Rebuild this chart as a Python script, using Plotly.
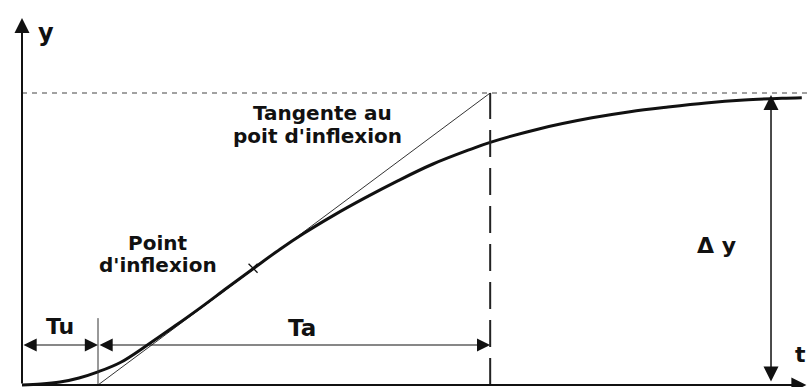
import plotly.graph_objects as go

# ---- data (time in units of Tu, response normalised so that Δy = 1) ----
t_curve = [0.0, 0.25, 0.5, 0.75, 1.0, 1.3, 1.65, 2.0, 2.35, 2.7, 3.05, 3.4, 3.7,
           4.1, 4.5, 4.95, 5.4, 5.9, 6.16, 6.8, 7.5, 8.0, 8.5, 9.0, 9.5, 10.0, 10.26]
y_curve = [0.0, 0.003, 0.010, 0.024, 0.045, 0.078, 0.137, 0.200, 0.265, 0.333, 0.400,
           0.466, 0.518, 0.581, 0.639, 0.700, 0.756, 0.807, 0.831, 0.877, 0.915,
           0.936, 0.952, 0.966, 0.976, 0.982, 0.984]
TU = 1.0          # dead time
TA = 5.16         # rise time (tangent span)
DY = 1.0          # final value step
t_inflex = [3.04]
y_inflex = [0.40]

# axis extents
T_MIN, T_MAX = -0.2895, 10.368
Y_MIN, Y_MAX = -0.00685, 1.3185
T_DY = 9.855      # position of the Δy arrow
Y_ROW = 0.137     # height of the Tu / Ta dimension arrows

INK = "#111111"
FONT = "DejaVu Sans"

fig = go.Figure()

# tangent at the inflection point
fig.add_trace(go.Scatter(x=[TU, TU + TA], y=[0, DY], mode="lines",
                         line=dict(color="#333333", width=1), hoverinfo="skip"))
# step response
fig.add_trace(go.Scatter(x=t_curve, y=y_curve, mode="lines",
                         line=dict(color=INK, width=3, shape="spline", smoothing=1.0),
                         hoverinfo="skip"))
# inflection marker
fig.add_trace(go.Scatter(x=t_inflex, y=y_inflex, mode="markers",
                         marker=dict(symbol="x-thin", size=9,
                                     line=dict(width=1.3, color=INK)),
                         hoverinfo="skip"))

shapes = [
    # asymptote (dashed)
    dict(type="line", x0=0, x1=T_MAX, y0=DY, y1=DY,
         line=dict(color="#444444", width=1, dash="5px,5px")),
    # end of Ta (long dash)
    dict(type="line", x0=TU + TA, x1=TU + TA, y0=0, y1=DY,
         line=dict(color="#222222", width=2, dash="27px,11px")),
    # Tu marker line
    dict(type="line", x0=TU, x1=TU, y0=0, y1=0.229,
         line=dict(color="#333333", width=1)),
]


def arrow(x0, y0, x1, y1, width, size, both=False):
    return dict(x=x1, y=y1, ax=x0, ay=y0, xref="x", yref="y", axref="x", ayref="y",
                text="", showarrow=True, arrowhead=2, arrowsize=size,
                arrowwidth=width, arrowcolor=INK, standoff=0, startstandoff=0,
                startarrowhead=2, startarrowsize=size,
                arrowside="end+start" if both else "end")


def label(x, y, text, size, xanchor="center"):
    return dict(x=x, y=y, xref="x", yref="y", text=text, showarrow=False,
                xanchor=xanchor, yanchor="middle",
                font=dict(family=FONT, size=size, color=INK, weight="bold"))


annotations = [
    # axes
    arrow(0, 0, 0, 1.257, 2, 1.5),
    arrow(0, 0, 10.32, 0, 2, 1.5),
    # Tu and Ta dimension arrows
    arrow(0, Y_ROW, TU, Y_ROW, 1.2, 2.2, both=True),
    arrow(TU, Y_ROW, TU + TA, Y_ROW, 1.2, 2.2, both=True),
    # Δy
    arrow(T_DY, 0.007, T_DY, 0.993, 1.5, 2.0, both=True),
    # texts
    label(0.316, 1.205, "y", 24),
    label(10.345, 0.103, "t", 22, xanchor="right"),
    label(TU / 2, 0.199, "Tu", 22),
    label(TU + TA / 2 + 0.1, 0.195, "Ta", 23),
    label(9.14, 0.479, "Δ y", 22),
    label(3.95, 0.932, "Tangente au", 20),
    label(3.89, 0.853, "poit d'inflexion", 20),
    label(1.78, 0.486, "Point", 20),
    label(1.79, 0.411, "d'inflexion", 20),
]

fig.update_layout(
    width=810, height=387,
    margin=dict(l=0, r=0, t=0, b=0),
    paper_bgcolor="white", plot_bgcolor="white",
    showlegend=False,
    xaxis=dict(visible=False, range=[T_MIN, T_MAX], fixedrange=True),
    yaxis=dict(visible=False, range=[Y_MIN, Y_MAX], fixedrange=True),
    shapes=shapes,
    annotations=annotations,
)

fig.write_html("out.html", config={"displayModeBar": False},
               post_script="document.body.style.margin='0';"
                           "document.body.style.overflow='hidden';")
